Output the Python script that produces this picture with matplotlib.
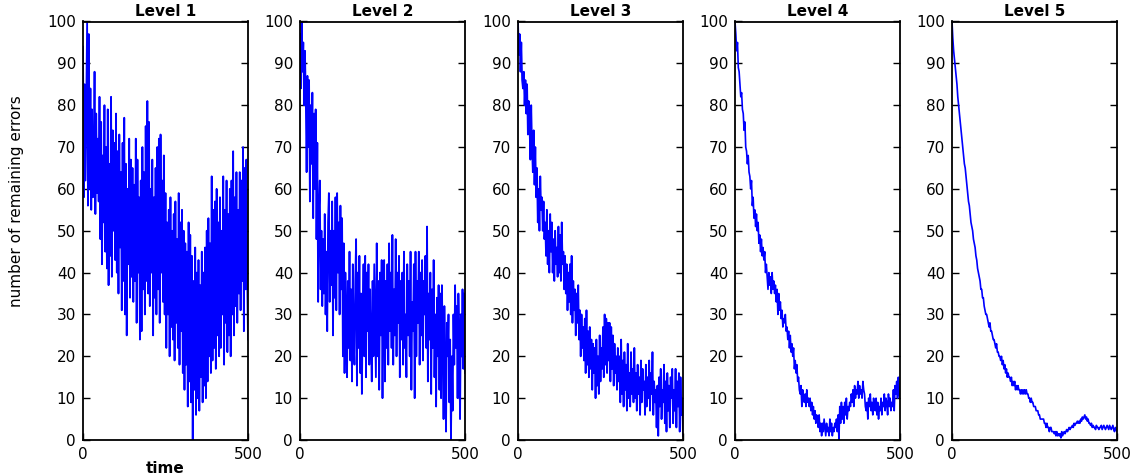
import matplotlib
matplotlib.use("Agg")
import matplotlib.pyplot as plt
import numpy as np

# time axis: one reading every 2.5 steps
time = np.linspace(0, 500, 201)

titles = ["Level 1", "Level 2", "Level 3", "Level 4", "Level 5"]

level1 = [94, 58, 85, 62, 80, 100, 56, 97, 60, 84,
          55, 79, 58, 65, 88, 54, 78, 59, 72, 57,
          82, 48, 76, 42, 68, 52, 80, 45, 70, 41,
          79, 37, 66, 44, 82, 39, 74, 50, 71, 43,
          78, 40, 69, 35, 73, 46, 64, 31, 71, 38,
          77, 30, 66, 25, 60, 42, 72, 34, 67, 39,
          65, 33, 61, 38, 72, 28, 67, 40, 58, 24,
          62, 26, 70, 36, 64, 30, 75, 38, 81, 35,
          76, 32, 60, 40, 67, 25, 58, 34, 65, 30,
          70, 36, 72, 28, 73, 40, 62, 33, 68, 30,
          59, 22, 52, 30, 55, 20, 58, 27, 50, 24,
          54, 19, 57, 28, 48, 22, 59, 18, 52, 26,
          55, 16, 50, 12, 47, 18, 45, 8, 52, 14,
          49, 9, 44, 0, 38, 12, 46, 6, 40, 10,
          43, 7, 37, 15, 45, 9, 40, 13, 46, 10,
          50, 14, 53, 20, 47, 16, 63, 19, 55, 22,
          57, 17, 60, 25, 52, 20, 58, 22, 50, 30,
          63, 18, 55, 28, 62, 21, 54, 25, 60, 20,
          62, 30, 69, 25, 58, 32, 64, 28, 55, 35,
          64, 31, 62, 38, 70, 26, 65, 36, 67, 40,
          24]

level2 = [97, 84, 100, 88, 95, 80, 93, 82, 64, 87,
          70, 86, 57, 80, 66, 83, 53, 78, 60, 79,
          48, 71, 33, 55, 62, 36, 50, 32, 48, 35,
          54, 30, 45, 26, 52, 59, 33, 50, 37, 57,
          25, 50, 34, 58, 31, 59, 40, 52, 30, 56,
          36, 53, 20, 47, 16, 40, 30, 15, 38, 22,
          45, 19, 36, 14, 42, 24, 18, 38, 48, 13,
          40, 22, 44, 16, 35, 11, 30, 42, 20, 44,
          15, 40, 26, 42, 18, 36, 24, 14, 38, 20,
          42, 28, 15, 47, 20, 38, 12, 40, 25, 43,
          10, 35, 43, 14, 38, 22, 42, 18, 47, 26,
          40, 22, 49, 18, 36, 25, 48, 20, 40, 28,
          44, 15, 38, 24, 40, 18, 45, 22, 30, 15,
          42, 25, 38, 20, 45, 12, 33, 26, 42, 10,
          45, 20, 38, 28, 45, 18, 40, 25, 43, 19,
          38, 30, 44, 22, 51, 14, 35, 24, 40, 11,
          36, 22, 43, 15, 30, 8, 34, 20, 37, 12,
          35, 10, 37, 24, 5, 32, 18, 2, 28, 20,
          30, 9, 24, 0, 20, 7, 30, 18, 37, 22,
          32, 10, 35, 25, 5, 30, 20, 36, 17, 35,
          16]

level3 = [100, 92, 97, 88, 95, 86, 84, 88, 80, 86,
          78, 85, 73, 81, 75, 67, 80, 70, 64, 74,
          61, 70, 58, 65, 52, 60, 50, 63, 55, 58,
          50, 57, 48, 52, 44, 55, 42, 50, 40, 54,
          45, 52, 40, 48, 38, 50, 42, 46, 39, 51,
          40, 49, 38, 52, 42, 45, 36, 44, 35, 42,
          31, 40, 33, 42, 30, 44, 28, 38, 31, 36,
          25, 35, 28, 37, 24, 31, 20, 30, 22, 27,
          19, 29, 16, 31, 18, 26, 15, 27, 17, 24,
          12, 23, 16, 22, 10, 24, 13, 20, 11, 25,
          14, 22, 17, 27, 15, 30, 18, 29, 16, 28,
          19, 28, 14, 27, 17, 25, 13, 23, 16, 20,
          12, 22, 14, 20, 9, 24, 11, 19, 8, 21,
          12, 18, 7, 23, 10, 16, 8, 21, 11, 17,
          9, 22, 10, 16, 7, 18, 11, 15, 6, 19,
          9, 17, 12, 14, 6, 18, 8, 15, 10, 19,
          7, 16, 11, 21, 6, 14, 9, 12, 3, 13,
          1, 15, 8, 17, 5, 12, 9, 18, 4, 14,
          2, 16, 7, 13, 3, 15, 10, 17, 4, 12,
          7, 17, 3, 14, 8, 16, 2, 15, 6, 10,
          1]

level4 = [100, 97, 93, 95, 89, 88, 85, 82, 83, 79,
          78, 74, 76, 70, 69, 66, 68, 64, 63, 60,
          62, 56, 58, 53, 55, 51, 54, 50, 52, 47,
          49, 45, 48, 44, 46, 43, 45, 40, 42, 39,
          36, 40, 37, 39, 35, 40, 36, 38, 35, 37,
          33, 36, 30, 35, 31, 33, 29, 31, 27, 29,
          28, 30, 26, 27, 24, 26, 22, 25, 21, 23,
          20, 22, 17, 19, 16, 18, 14, 15, 12, 11,
          13, 8, 12, 10, 9, 11, 8, 12, 9, 10,
          8, 10, 7, 9, 6, 8, 5, 7, 4, 6,
          5, 3, 6, 2, 4, 1, 4, 2, 5, 3,
          1, 4, 2, 3, 1, 5, 2, 4, 1, 3,
          2, 4, 3, 5, 2, 6, 0, 8, 4, 9,
          5, 8, 4, 9, 6, 10, 5, 8, 7, 9,
          8, 11, 9, 12, 8, 13, 10, 12, 11, 14,
          10, 13, 11, 12, 10, 14, 12, 11, 8, 7,
          9, 5, 10, 8, 11, 7, 9, 6, 10, 8,
          7, 10, 6, 9, 5, 8, 7, 10, 6, 9,
          8, 11, 7, 10, 9, 6, 11, 8, 10, 7,
          9, 8, 12, 7, 13, 11, 14, 10, 15, 11,
          10]

level5 = [100, 96, 93, 91, 89, 87, 85, 82, 80, 78,
          76, 74, 72, 70, 68, 66, 65, 63, 61, 59,
          57, 56, 54, 52, 51, 50, 48, 47, 46, 44,
          43, 41, 40, 39, 38, 36, 36, 34, 34, 32,
          31, 30, 30, 29, 28, 27, 28, 26, 26, 25,
          24, 24, 23, 22, 23, 21, 21, 20, 20, 19,
          20, 18, 19, 17, 18, 16, 17, 15, 16, 15,
          15, 14, 15, 13, 14, 13, 14, 12, 13, 12,
          13, 12, 12, 11, 12, 11, 12, 11, 12, 11,
          12, 11, 11, 10, 10, 9, 10, 9, 9, 8,
          8, 8, 7, 7, 7, 6, 6, 5, 5, 5,
          5, 5, 4, 4, 3, 4, 3, 3, 2, 3,
          3, 2, 2, 2, 1.5, 2, 1, 2, 1, 1.5,
          1, 1.5, 0.5, 2, 1, 1.5, 2, 1.5, 2, 2.5,
          2, 2.5, 3, 2.5, 3, 3, 3.5, 3, 4, 3.5,
          4, 4, 4.5, 4, 4.5, 4, 5, 4.5, 5.5, 5,
          5.5, 6, 5, 5.5, 4.5, 5, 4, 4, 3.5, 4,
          3, 3.5, 3, 3, 2.5, 3.5, 3, 3, 2.5, 3,
          3, 3.5, 2.5, 3, 3.5, 3, 2.5, 3, 3.5, 3,
          2.5, 3.5, 3, 2.5, 3, 3.5, 2.5, 2, 3, 2.5,
          2]

series = [level1, level2, level3, level4, level5]
widths = [1.3, 1.3, 1.3, 1.2, 1.2]

W, H = 1141, 475
fig = plt.figure(figsize=(W / 100, H / 100), dpi=100)

lefts = [83, 300, 518, 735, 952]
ax_w = 165
top, bottom = 21.5, 440

for i, (left, vals) in enumerate(zip(lefts, series)):
    ax = fig.add_axes([left / W, (H - bottom) / H, ax_w / W, (bottom - top) / H])
    ax.plot(time, vals, color="#0000ff", lw=widths[i])
    ax.set_xlim(0, 500)
    ax.set_ylim(0, 100)
    ax.set_xticks([0, 500])
    ax.set_yticks(np.arange(0, 101, 10))
    ax.tick_params(direction="in", length=5, width=1, right=True, top=False,
                   labelsize=11, pad=5)
    for s in ax.spines.values():
        s.set_linewidth(1.3)
    ax.set_title(titles[i], fontsize=11, fontweight="bold", pad=4)
    if i == 0:
        ax.set_ylabel("number of remaining errors", fontsize=11)
        ax.yaxis.set_label_coords(-0.36, 0.57)
        ax.set_xlabel("time", fontsize=11, fontweight="bold", labelpad=-1)

fig.savefig("out.png", dpi=100)
